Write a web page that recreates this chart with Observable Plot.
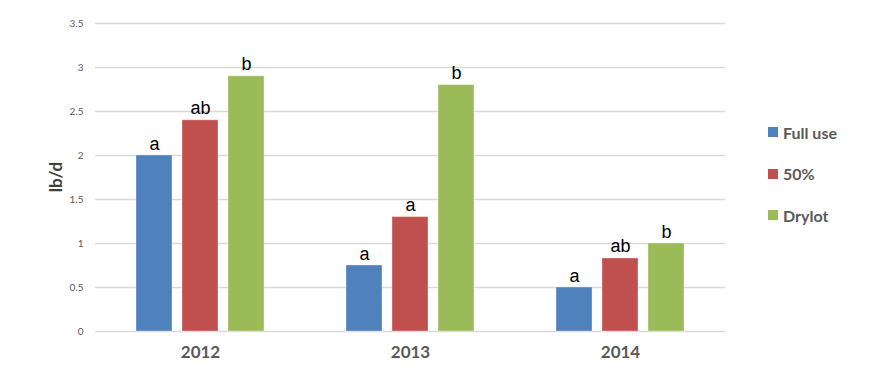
<!DOCTYPE html>
<html>
<head>
<meta charset="utf-8">
<script src="https://cdn.jsdelivr.net/npm/d3@7"></script>
<script src="https://cdn.jsdelivr.net/npm/@observablehq/plot@0.6"></script>
<style>
  html, body { margin: 0; padding: 0; background: #fff; }
  #wrap { position: relative; width: 872px; height: 370px; }
  #legend { position: absolute; left: 768px; top: 121px; font: bold 16px Lato, "Open Sans", sans-serif; color: #595959; }
  #legend .item { display: flex; align-items: center; height: 22px; margin-bottom: 19.5px; }
  #legend .sw { width: 10px; height: 10px; margin-right: 5px; }
</style>
</head>
<body>
<div id="wrap"></div>
<script>
const years = ["2012", "2013", "2014"];
const treatments = ["Full use", "50%", "Drylot"];
const colors = ["#4F81BD", "#C0504D", "#9BBB59"];
const fullUse = [2.0, 0.75, 0.5];
const half = [2.4, 1.3, 0.83];
const drylot = [2.9, 2.8, 1.0];
const lettersFull = ["a", "a", "a"];
const lettersHalf = ["ab", "a", "ab"];
const lettersDry = ["b", "b", "b"];
const yTicks = [0, 0.5, 1, 1.5, 2, 2.5, 3, 3.5];

const series = [fullUse, half, drylot];
const letters = [lettersFull, lettersHalf, lettersDry];
const data = [];
years.forEach((yr, i) => {
  treatments.forEach((t, j) => {
    data.push({year: yr, treatment: t, value: series[j][i], letter: letters[j][i]});
  });
});

const chart = Plot.plot({
  width: 872,
  height: 370,
  marginLeft: 94,
  marginRight: 146,
  marginTop: 23,
  marginBottom: 39,
  style: {fontFamily: "Lato, 'Open Sans', sans-serif", background: "#fff"},
  fx: {domain: years, padding: 0, label: null, axis: null},
  x: {domain: treatments, paddingInner: 0.21, paddingOuter: 0.855, axis: null},
  y: {domain: [0, 3.5], ticks: yTicks, label: null, axis: null},
  color: {domain: treatments, range: colors},
  marks: [
    Plot.gridY(yTicks, {stroke: "#d9d9d9", strokeOpacity: 1, strokeWidth: 1.5}),
    Plot.barY(data, {fx: "year", x: "treatment", y: "value", fill: "treatment", stroke: "#ffffff", strokeOpacity: 0.35, strokeWidth: 1}),
    Plot.text(data, {fx: "year", x: "treatment", y: "value", text: "letter", lineAnchor: "bottom", dy: -6, fontSize: 18, fill: "#000", fontFamily: "'Liberation Sans', Arial, sans-serif"}),
    Plot.axisFx({anchor: "bottom", tickSize: 0, tickPadding: 14, fontSize: 17, fontWeight: "bold", fill: "#595959", label: null}),
    Plot.axisY(yTicks, {facetAnchor: "left", tickSize: 0, tickPadding: 12, fontSize: 10, fill: "#595959", tickFormat: d => String(d), label: null})
  ]
});

const svg = d3.select(chart);
svg.append("text")
  .attr("transform", "translate(58,177) rotate(-90)")
  .attr("text-anchor", "middle")
  .attr("dominant-baseline", "middle")
  .attr("font-family", "Lato, 'Open Sans', sans-serif")
  .attr("font-size", 17)
  .attr("font-weight", "bold")
  .attr("fill", "#404040")
  .text("lb/d");

document.getElementById("wrap").appendChild(chart);

const legend = document.createElement("div");
legend.id = "legend";
treatments.forEach((t, j) => {
  const item = document.createElement("div");
  item.className = "item";
  const sw = document.createElement("span");
  sw.className = "sw";
  sw.style.background = colors[j];
  const lab = document.createElement("span");
  lab.textContent = t;
  item.appendChild(sw);
  item.appendChild(lab);
  legend.appendChild(item);
});
document.getElementById("wrap").appendChild(legend);
</script>
</body>
</html>
